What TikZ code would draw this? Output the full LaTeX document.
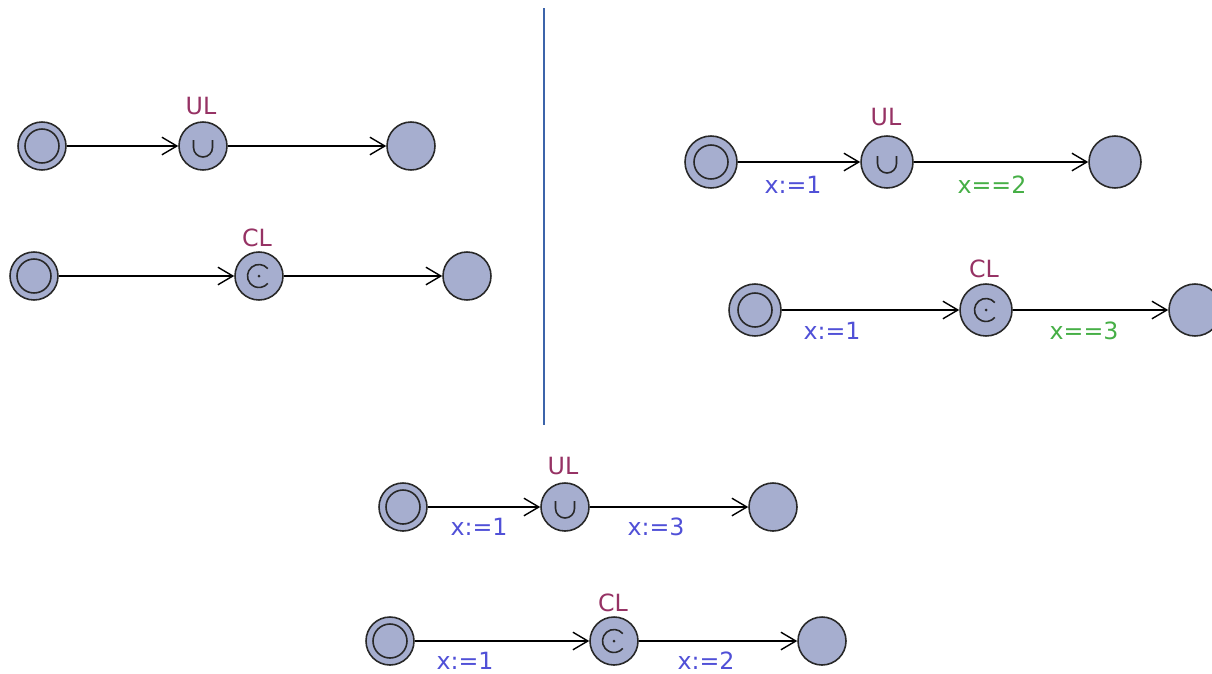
\documentclass[tikz,border=0pt]{standalone}
\usepackage{fontspec}
\setmainfont{DejaVu Sans}
\usepackage{tikz}
\usetikzlibrary{arrows.meta}
\definecolor{locfill}{RGB}{166,174,207}
\definecolor{locdraw}{RGB}{40,40,40}
\definecolor{namecol}{RGB}{150,50,100}
\definecolor{assigncol}{RGB}{80,80,215}
\definecolor{guardcol}{RGB}{70,175,70}
\definecolor{sepcol}{RGB}{60,100,170}
\tikzstyle{loc} = [circle, draw=locdraw, line width=0.9pt, fill=locfill, minimum size=0.96cm, inner sep=0pt]
\tikzstyle{bigloc} = [minimum size=1.04cm]
\tikzstyle{initloc} = [loc, path picture={\draw[locdraw, line width=0.9pt] (path picture bounding box.center) circle (0.34cm);}]
\tikzstyle{urgloc} = [loc, path picture={\draw[locdraw, line width=0.9pt] ([shift={(-0.19cm,0.12cm)}]path picture bounding box.center) -- ++(0,-0.15cm) arc (180:360:0.19cm) -- ++(0,0.15cm);}]
\tikzstyle{comloc} = [loc, path picture={\draw[locdraw, line width=0.9pt] ([shift={(40:0.23cm)}]path picture bounding box.center) arc (40:320:0.23cm); \fill[locdraw] (path picture bounding box.center) circle (0.03cm);}]
\tikzstyle{arrow} = [line width=0.8pt, -{Straight Barb[length=8.5pt, width=10pt, line width=0.8pt]}]
\tikzstyle{locname} = [text=namecol]
\tikzstyle{assign} = [text=assigncol]
\tikzstyle{guard} = [text=guardcol]

\begin{document}
\begin{tikzpicture}[x=0.02cm, y=-0.02cm, every node/.style={font=\fontsize{13.5}{16}\selectfont}]
  \useasboundingbox (0,0) rectangle (1212,673);
  % separator
  \draw[sepcol, line width=0.8pt] (544,8) -- (544,425);

  % top left, urgent
  \node[initloc] (initA) at (42,146) {};
  \node[urgloc] (urgA) at (203,146) {};
  \node[loc] (finA) at (411,146) {};
  \node[locname] (nameA) at (201,106) {UL};
  \draw[arrow] (initA) -- (urgA);
  \draw[arrow] (urgA) -- (finA);

  % top left, committed
  \node[initloc] (initB) at (34,276) {};
  \node[comloc] (comB) at (259,276) {};
  \node[loc] (finB) at (467,276) {};
  \node[locname] (nameB) at (257,238) {CL};
  \draw[arrow] (initB) -- (comB);
  \draw[arrow] (comB) -- (finB);

  % right, urgent
  \node[initloc, bigloc] (initC) at (711,162) {};
  \node[urgloc, bigloc] (urgC) at (887,162) {};
  \node[loc, bigloc] (finC) at (1115,162) {};
  \node[locname] (nameC) at (886,117) {UL};
  \node[assign] (updC) at (793,185) {x:=1};
  \node[guard] (grdC) at (992,185) {x==2};
  \draw[arrow] (initC) -- (urgC);
  \draw[arrow] (urgC) -- (finC);

  % right, committed
  \node[initloc, bigloc] (initD) at (755,310) {};
  \node[comloc, bigloc] (comD) at (986,310) {};
  \node[loc, bigloc] (finD) at (1195,310) {};
  \node[locname] (nameD) at (984,269) {CL};
  \node[assign] (updD) at (832,331) {x:=1};
  \node[guard] (grdD) at (1084,331) {x==3};
  \draw[arrow] (initD) -- (comD);
  \draw[arrow] (comD) -- (finD);

  % bottom, urgent
  \node[initloc] (initE) at (403,507) {};
  \node[urgloc] (urgE) at (565,507) {};
  \node[loc] (finE) at (773,507) {};
  \node[locname] (nameE) at (563,466) {UL};
  \node[assign] (updE) at (479,527) {x:=1};
  \node[assign] (upd2E) at (656,527) {x:=3};
  \draw[arrow] (initE) -- (urgE);
  \draw[arrow] (urgE) -- (finE);

  % bottom, committed
  \node[initloc] (initF) at (390,641) {};
  \node[comloc] (comF) at (614,641) {};
  \node[loc] (finF) at (822,641) {};
  \node[locname] (nameF) at (613,603) {CL};
  \node[assign] (updF) at (465,661) {x:=1};
  \node[assign] (upd2F) at (706,661) {x:=2};
  \draw[arrow] (initF) -- (comF);
  \draw[arrow] (comF) -- (finF);
\end{tikzpicture}
\end{document}
